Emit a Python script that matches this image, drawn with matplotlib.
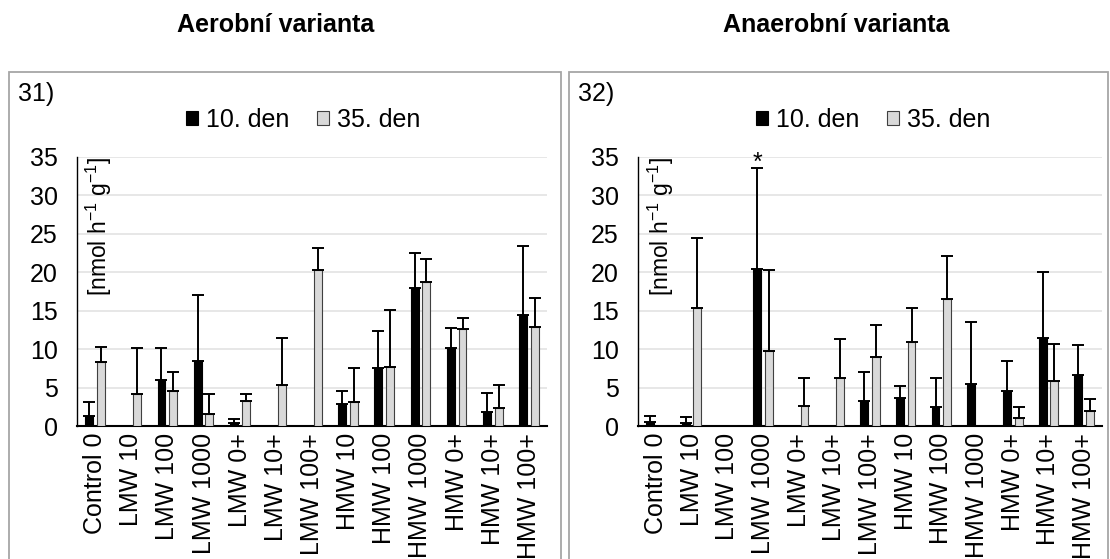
import numpy as np
import matplotlib
matplotlib.use("Agg")
import matplotlib.pyplot as plt
from matplotlib.patches import Rectangle

plt.rcParams['font.family'] = ['Liberation Sans', 'DejaVu Sans']
plt.rcParams['mathtext.fontset'] = 'custom'
plt.rcParams['mathtext.rm'] = 'Liberation Sans'
plt.rcParams['mathtext.default'] = 'rm'

categories = ['Control 0', 'LMW 10', 'LMW 100', 'LMW 1000', 'LMW 0+', 'LMW 10+',
              'LMW 100+', 'HMW 10', 'HMW 100', 'HMW 1000', 'HMW 0+', 'HMW 10+', 'HMW 100+']

# aerobic variant (31)
aer_d10 = [1.3, 0, 6.0, 8.5, 0.4, 0, 0, 2.9, 7.5, 17.9, 10.1, 1.8, 14.4]
aer_d10_err = [1.8, 0, 4.2, 8.6, 0.5, 0, 0, 1.6, 4.8, 4.6, 2.6, 2.5, 9.0]
aer_d35 = [8.3, 4.2, 4.6, 1.6, 3.2, 5.3, 20.3, 3.1, 7.7, 18.7, 12.6, 2.4, 12.9]
aer_d35_err = [2.0, 5.9, 2.4, 2.5, 1.0, 6.2, 2.8, 4.4, 7.4, 3.0, 1.4, 2.9, 3.8]

# anaerobic variant (32)
ana_d10 = [0.5, 0.4, 0, 20.4, 0, 0, 3.2, 3.6, 2.5, 5.5, 4.6, 11.5, 6.6]
ana_d10_err = [0.8, 0.8, 0, 13.2, 0, 0, 3.8, 1.6, 3.8, 8.0, 3.9, 8.5, 3.9]
ana_d35 = [0, 15.3, 0, 9.7, 2.6, 6.3, 9.0, 10.9, 16.5, 0, 1.0, 5.9, 1.9]
ana_d35_err = [0, 9.1, 0, 10.6, 3.6, 5.0, 4.1, 4.5, 5.6, 0, 1.5, 4.8, 1.6]

x = np.arange(len(categories))
W, H = 1110, 559
fig = plt.figure(figsize=(W / 100, H / 100), dpi=100)

# panel frames
for px0, px1 in [(9, 561), (569, 1108)]:
    fig.patches.append(Rectangle((px0 / W, -0.05), (px1 - px0) / W, 1.05 - 72 / H,
                                 transform=fig.transFigure, fill=False,
                                 edgecolor='#a6a6a6', linewidth=1.3))

panels = [
    # axes left, axes right, data..., tag, title, title x, tag x, legend x, ylabel x
    (77, 547, aer_d10, aer_d10_err, aer_d35, aer_d35_err, '31)', 'Aerobní varianta', 276, 18, 303, 0.047),
    (638, 1102, ana_d10, ana_d10_err, ana_d35, ana_d35_err, '32)', 'Anaerobní varianta', 836, 578, 873, 0.05),
]

y0, y35 = 426, 157
for l, r, d10, e10, d35, e35, tag, title, tx, tagx, lgx, ylx in panels:
    ax = fig.add_axes([l / W, (H - y0) / H, (r - l) / W, (y0 - y35) / H])
    bw = 0.22
    off = 0.163
    ax.bar(x - off, d10, bw, color='black', edgecolor='black', linewidth=0.8,
           label='10. den', zorder=3)
    ax.bar(x + off, d35, bw, color='#d9d9d9', edgecolor='#404040', linewidth=0.8,
           label='35. den', zorder=3)
    for xs, v, e in [(x - off, d10, e10), (x + off, d35, e35)]:
        v = np.array(v)
        e = np.array(e)
        m = e > 0
        ax.errorbar(xs[m], v[m], yerr=[np.zeros(m.sum()), e[m]], fmt='none',
                    ecolor='black', elinewidth=1.4, capsize=4.5, capthick=1.4, zorder=4)
    ax.set_xlim(-0.5, len(categories) - 0.5)
    ax.set_ylim(0, 35)
    ax.set_yticks(range(0, 36, 5))
    ax.set_xticks(x)
    ax.set_xticklabels(categories, rotation=90, fontsize=18)
    ax.tick_params(axis='y', length=0, labelsize=18, pad=14)
    ax.tick_params(axis='x', length=0, pad=5)
    ax.grid(axis='y', color='#e3e3e3', linewidth=1.2, zorder=0)
    ax.set_axisbelow(True)
    for s in ['top', 'right']:
        ax.spines[s].set_visible(False)
    ax.spines['left'].set_linewidth(1.0)
    ax.spines['bottom'].set_linewidth(1.5)
    ax.text(ylx, 1.0, r'[nmol h$^{-1}$ g$^{-1}$]', transform=ax.transAxes,
            rotation=90, ha='center', va='top', fontsize=16.5)
    ax.legend(loc='center', bbox_to_anchor=(lgx / W, 1 - 120 / H),
              bbox_transform=fig.transFigure, ncol=2, frameon=False, fontsize=18,
              handlelength=0.5, handleheight=0.5, handletextpad=0.3,
              columnspacing=1.1, borderpad=0)
    fig.text(tagx / W, 1 - 94 / H, tag, fontsize=18, ha='left', va='center')
    fig.text(tx / W, 1 - 25 / H, title, fontsize=18, fontweight='bold',
             ha='center', va='center')

# significance mark in anaerobic panel (LMW 1000, day 10)
ax.text(x[3] - 0.163, 34.2, '*', ha='center', va='center', fontsize=18, clip_on=False)

fig.savefig('out.png', dpi=100)
